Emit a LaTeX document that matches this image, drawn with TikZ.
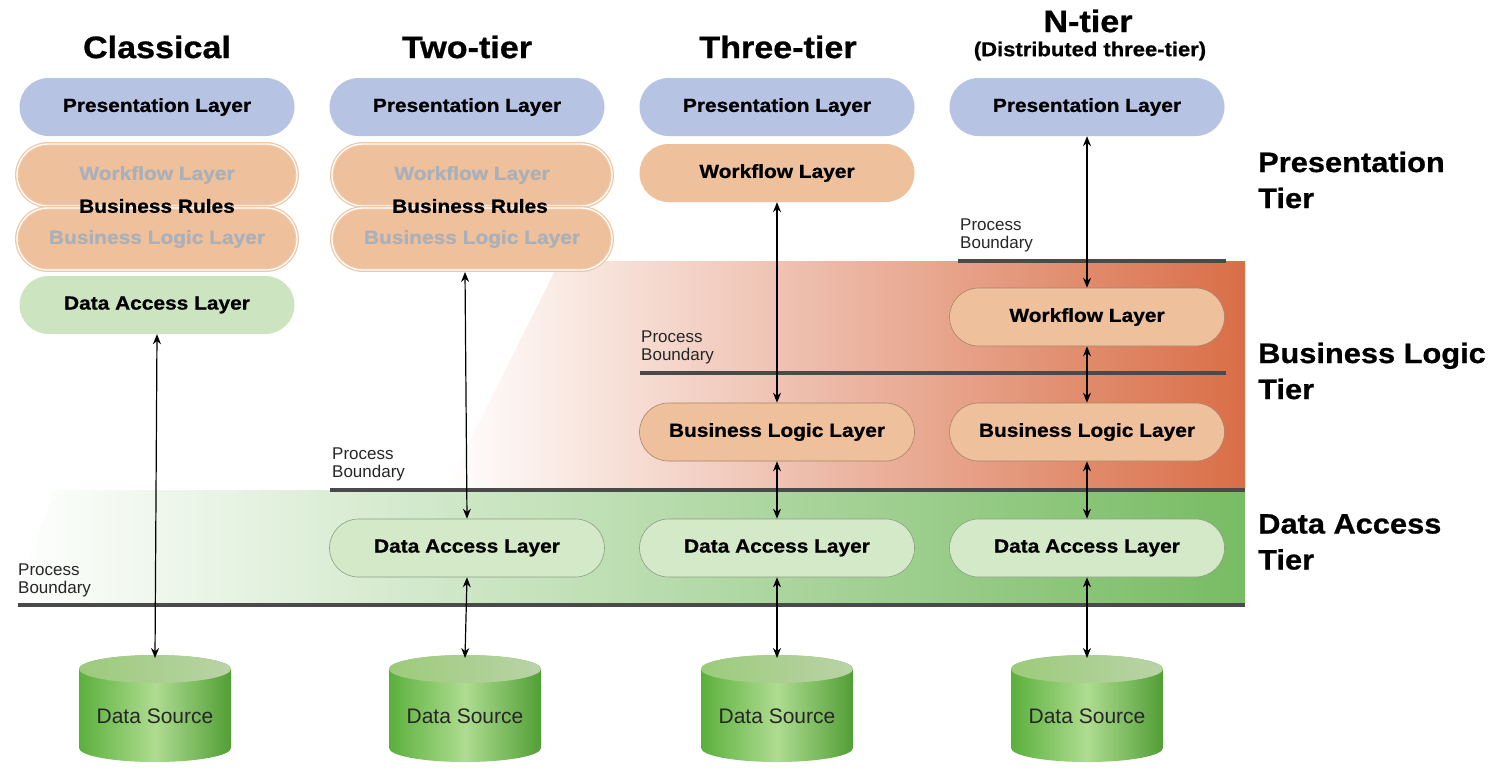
\documentclass[tikz,border=0pt]{standalone}
\usepackage{fontspec}
\setmainfont{Liberation Sans}
\newfontfamily\hv{Liberation Sans}[FakeStretch=1.1, BoldFeatures={FakeBold=0.8}]
\usetikzlibrary{arrows.meta,shapes.misc}
\definecolor{presblue}{HTML}{B7C3E3}
\definecolor{peach}{HTML}{EEC09B}
\definecolor{peachline}{HTML}{F0C8A8}
\definecolor{ghosttext}{HTML}{A9B0BA}
\definecolor{dalgreen}{HTML}{CDE4C1}
\definecolor{bandpillgreen}{HTML}{D3E9C8}
\definecolor{pillgreenline}{HTML}{8E9E84}
\definecolor{pillorangeline}{HTML}{A88466}
\definecolor{bandorange}{HTML}{D96E47}
\definecolor{bandorangemid}{HTML}{EEC3A2}
\definecolor{bandgreen}{HTML}{78BC63}
\definecolor{bandgreenmid}{HTML}{CDE4C0}
\definecolor{boundgray}{HTML}{4A4A4A}
\definecolor{cyldark}{HTML}{5BB03C}
\definecolor{cyllight}{HTML}{AEDC90}
\definecolor{cyltopA}{HTML}{9CCB7B}
\definecolor{cyltopB}{HTML}{B9D3A6}
\begin{document}
\begin{tikzpicture}[x=1pt,y=-1pt,
  pill/.style={rounded rectangle, minimum width=275pt, minimum height=58pt, inner sep=0pt,
    font=\hv\bfseries\fontsize{19}{22}\selectfont},
  prespill/.style={pill, fill=presblue},
  wfpill/.style={pill, fill=peach},
  ghost/.style={pill, minimum width=280pt, minimum height=62pt, fill=peach, draw=peachline,
    double=white, double distance=1.3pt, line width=1.3pt, text=ghosttext},
  dalpill/.style={pill, fill=dalgreen},
  bgpill/.style={pill, fill=bandpillgreen, draw=pillgreenline, line width=0.6pt},
  bopill/.style={pill, fill=peach, draw=pillorangeline, line width=0.6pt},
  conn/.style={{Stealth[length=10pt,width=8pt]}-{Stealth[length=10pt,width=8pt]}, line width=1.2pt},
  bound/.style={line width=4pt, draw=boundgray},
  plabel/.style={anchor=south west, inner sep=0pt, align=left, text=black!85,
    font=\fontsize{17}{18}\selectfont},
  title/.style={font=\hv\bfseries\fontsize{31}{36}\selectfont},
  tierlabel/.style={anchor=west, align=left, inner sep=0pt, font=\hv\bfseries\fontsize{28}{36}\selectfont},
  dstext/.style={font=\fontsize{21}{24}\selectfont, text=black!85}
]
\useasboundingbox (0,0) rectangle (1509,771);

% background bands
\shade[left color=white, middle color=bandgreenmid, right color=bandgreen] (55,490) -- (1245,490) -- (1245,605) -- (10,605) -- cycle;
\shade[left color=white, middle color=bandorangemid, right color=bandorange] (560,261) -- (1245,261) -- (1245,490) -- (445,490) -- cycle;

% titles
\node[title] (t1) at (157,47) {Classical};
\node[title] (t2) at (467,47) {Two-tier};
\node[title] (t3) at (778,47) {Three-tier};
\node[title] (t4) at (1088,21) {N-tier};
\node[font=\hv\bfseries\fontsize{20}{22}\selectfont] (t4b) at (1090,51) {(Distributed three-tier)};

% tier labels
\node[tierlabel] (lp) at (1258,180) {Presentation\\Tier};
\node[tierlabel] (lb) at (1258,371) {Business Logic\\Tier};
\node[tierlabel] (ld) at (1258,542) {Data Access\\Tier};

% process boundaries
\coordinate (b1a) at (18,605);  \coordinate (b1b) at (1245,605);
\coordinate (b2a) at (330,490); \coordinate (b2b) at (1245,490);
\coordinate (b3a) at (640,373); \coordinate (b3b) at (1226,373);
\coordinate (b4a) at (958,261); \coordinate (b4b) at (1226,261);
\draw[bound] (b1a) -- (b1b);
\draw[bound] (b2a) -- (b2b);
\draw[bound] (b3a) -- (b3b);
\draw[bound] (b4a) -- (b4b);
\node[plabel] (p1) at (18,597) {Process\\Boundary};
\node[plabel] (p2) at (332,481) {Process\\Boundary};
\node[plabel] (p3) at (641,364) {Process\\Boundary};
\node[plabel] (p4) at (960,252) {Process\\Boundary};

% Classical
\node[prespill] (pres1) at (157,107) {Presentation Layer};
\node[ghost] (wf1) at (157,175) {Workflow Layer};
\node[ghost] (bll1) at (157,239) {Business Logic Layer};
\node[font=\hv\bfseries\fontsize{19}{22}\selectfont] (br1) at (157,206) {Business Rules};
\node[dalpill] (dal1) at (157,305) {Data Access Layer};

% Two-tier
\node[prespill] (pres2) at (467,107) {Presentation Layer};
\node[ghost] (wf2) at (472,175) {Workflow Layer};
\node[ghost] (bll2) at (472,239) {Business Logic Layer};
\node[font=\hv\bfseries\fontsize{19}{22}\selectfont] (br2) at (470,206) {Business Rules};
\node[bgpill] (dal2) at (467,548) {Data Access Layer};

% Three-tier
\node[prespill] (pres3) at (777,107) {Presentation Layer};
\node[wfpill] (wf3) at (777,173) {Workflow Layer};
\node[bopill] (bll3) at (777,432) {Business Logic Layer};
\node[bgpill] (dal3) at (777,548) {Data Access Layer};

% N-tier
\node[prespill] (pres4) at (1087,107) {Presentation Layer};
\node[bopill] (wf4) at (1087,317) {Workflow Layer};
\node[bopill] (bll4) at (1087,432) {Business Logic Layer};
\node[bgpill] (dal4) at (1087,548) {Data Access Layer};

% data sources
\foreach \cx/\nm in {155/ds1, 465/ds2, 777/ds3, 1087/ds4}{
  \shade[left color=cyldark, right color=cyldark!90!black, middle color=cyllight]
    (\cx-76,669) -- (\cx-76,748) arc[start angle=180, end angle=0, x radius=76, y radius=14]
    -- (\cx+76,669) arc[start angle=0, end angle=-180, x radius=76, y radius=14] -- cycle;
  \shade[left color=cyltopA, right color=cyltopB] (\cx,669) ellipse[x radius=76, y radius=14];
  \coordinate (\nm) at (\cx,658);
  \node[dstext] (\nm t) at (\cx,716) {Data Source};
}

% connectors
\draw[conn] (dal1.south) -- (ds1);
\draw[conn] (465,272) -- (dal2.north);
\draw[conn] (dal2.south) -- (ds2);
\draw[conn] (wf3.south) -- (bll3.north);
\draw[conn] (bll3.south) -- (dal3.north);
\draw[conn] (dal3.south) -- (ds3);
\draw[conn] (pres4.south) -- (wf4.north);
\draw[conn] (wf4.south) -- (bll4.north);
\draw[conn] (bll4.south) -- (dal4.north);
\draw[conn] (dal4.south) -- (ds4);
\end{tikzpicture}
\end{document}
